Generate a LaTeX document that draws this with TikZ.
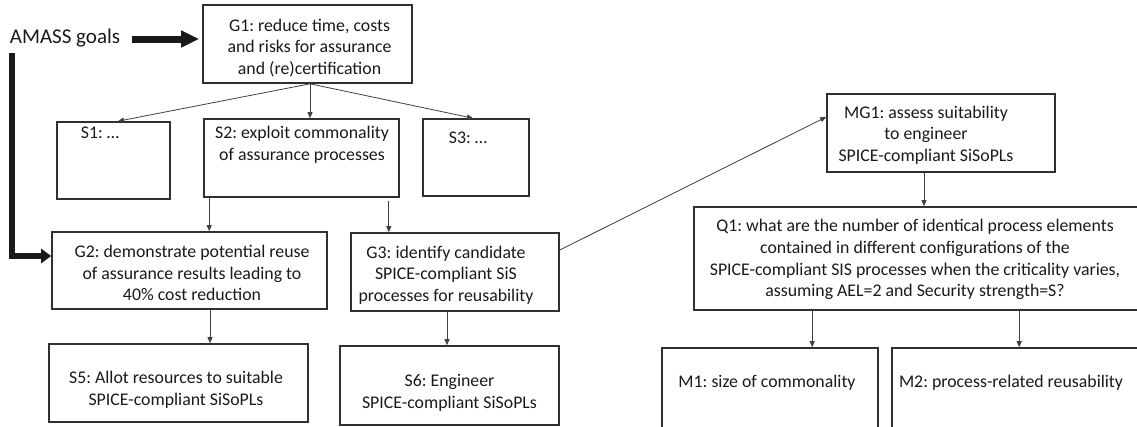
\documentclass[tikz,border=0pt]{standalone}
\usepackage{fontspec}
\setmainfont{Carlito}
\frenchspacing
\usetikzlibrary{arrows.meta,calc}
\definecolor{ink}{HTML}{1A1A1A}
\definecolor{frame}{HTML}{303030}
\definecolor{wire}{HTML}{404040}
\tikzset{
  box/.style={draw=frame, line width=1.6pt, minimum width=#1, inner sep=0pt},
  txt/.style={inner sep=0pt, align=center, text=ink,
    font=\fontsize{17.8pt}{21.7pt}\selectfont},
  arr/.style={draw=wire, line width=0.8pt,
    -{Triangle[length=6pt,width=5pt]}},
  fat/.style={draw=black!90, line width=7pt,
    -{Triangle[length=18pt,width=16pt]}},
  fatside/.style={draw=black!90, line width=6pt,
    -{Triangle[length=10pt,width=14pt]}},
}
\begin{document}
\begin{tikzpicture}[x=1pt,y=-1pt]
\clip (0,0) rectangle (1137,426);
\fill[white] (0,0) rectangle (1137,426);

% goal boxes
\node[box=209pt, minimum height=78pt] (g1) at (307.5,44) {};
\node[box=113pt, minimum height=77pt] (s1) at (113.5,160.5) {};
\node[box=195pt, minimum height=78pt] (s2) at (301.5,158) {};
\node[box=106pt, minimum height=77pt] (s3) at (476,157.5) {};
\node[box=275pt, minimum height=77pt] (g2) at (189.5,270.5) {};
\node[box=208pt, minimum height=78pt] (g3) at (455,272) {};
\node[box=259pt, minimum height=78pt] (s5) at (178.5,383) {};
\node[box=219pt, minimum height=79pt] (s6) at (449.5,385.5) {};
\node[box=228pt, minimum height=78pt] (mg1) at (941,133) {};
\node[box=446pt, minimum height=103pt] (q1) at (917,258.5) {};
\node[box=216pt, minimum height=82pt] (m1) at (770,389) {};
\node[box=248pt, minimum height=82pt] (m2) at (1016,389) {};

% texts
\node[txt, font=\fontsize{21pt}{24pt}\selectfont] (amass) at (65,38) {AMASS goals};
\node[txt] (g1t) at (309.5,48) {G1: reduce time, costs\\and risks for assurance\\and (re)certification};
\node[txt] (s1t) at (100,133) {S1: …};
\node[txt] (s2t) at (302,144.5) {S2: exploit commonality\\of assurance processes};
\node[txt] (s3t) at (468,138) {S3: …};
\node[txt] (g2t) at (192,273) {G2: demonstrate potential reuse\\of assurance results leading to\\40\% cost reduction};
\node[txt] (g3t) at (446,275) {G3: identify candidate\\SPICE-compliant SiS\\processes for reusability};
\node[txt] (s5t) at (176,390) {S5: Allot resources to suitable\\SPICE-compliant SiSoPLs};
\node[txt] (s6t) at (449.5,392.5) {S6: Engineer\\SPICE-compliant SiSoPLs};
\node[txt] (mg1t) at (926,135) {MG1: assess suitability\\to engineer\\SPICE-compliant SiSoPLs};
\node[txt] (q1t) at (915,259.5) {Q1: what are the number of identical process elements\\contained in different configurations of the\\SPICE-compliant SIS processes when the criticality varies,\\assuming AEL=2 and Security strength=S?};
\node[txt] (m1t) at (767,383) {M1: size of commonality};
\node[txt] (m2t) at (1011,383) {M2: process-related reusability};

% thick arrows from the goals label
\coordinate (knee) at (12,256);
\draw[fat] (132,39) -- ([xshift=-3pt]g1.west |- 0,39);
\draw[fatside] (12,53) -- (knee) -- (g2.west |- knee);

% thin connectors
\draw[arr] ([xshift=2.5pt]g1.south) -- ([xshift=4.5pt]s1.north);
\draw[arr] ([xshift=2.5pt]g1.south) -- ([xshift=2.5pt]g1.south |- s2.north);
\draw[arr] ([xshift=2.5pt]g1.south) -- ([xshift=-3pt]s3.north);
\draw[arr] ([xshift=6pt]s2.south west) -- ([xshift=6pt]s2.south west |- g2.north);
\draw[arr] ([xshift=-11pt,yshift=-3pt]s2.south east) -- ([xshift=-11pt]s2.south east |- g3.north);
\draw[arr] ([xshift=20.5pt]g2.south) -- ([xshift=20.5pt]g2.south |- s5.north);
\draw[arr] ([xshift=-8pt]g3.south) -- ([xshift=-8pt]g3.south |- s6.north);
\draw[arr] ([yshift=22pt]g3.east) -- ([yshift=16pt]mg1.west);
\draw[arr] ([xshift=-17pt]mg1.south) -- ([xshift=-17pt]mg1.south |- q1.north);
\draw[arr] ([xshift=119pt]q1.south west) -- ([xshift=119pt]q1.south west |- m1.north);
\draw[arr] ([xshift=326pt]q1.south west) -- ([xshift=326pt]q1.south west |- m2.north);
\end{tikzpicture}
\end{document}
